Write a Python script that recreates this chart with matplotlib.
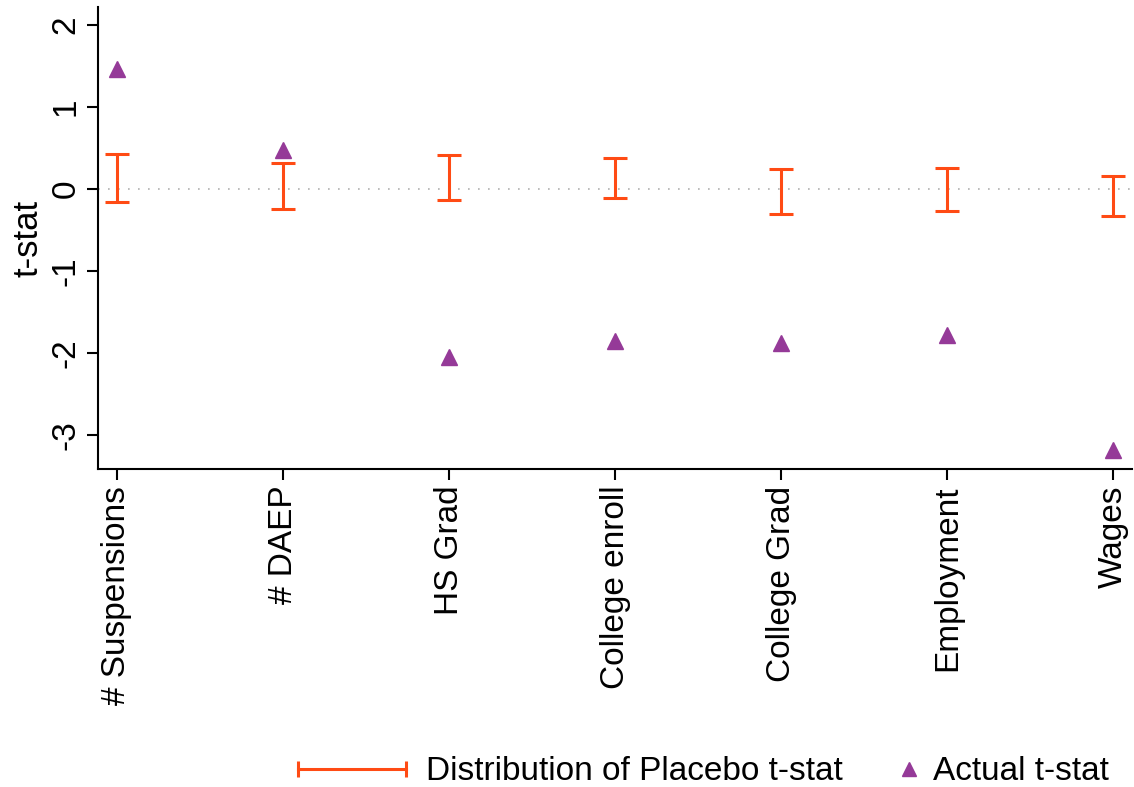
import matplotlib
matplotlib.use("Agg")
import matplotlib.pyplot as plt
from matplotlib.lines import Line2D
from matplotlib.legend_handler import HandlerLine2D
import numpy as np

# outcomes on the x axis
outcomes = ["# Suspensions", "# DAEP", "HS Grad", "College enroll",
            "College Grad", "Employment", "Wages"]

# placebo t-stat distribution (low / high end of the bar)
placebo_lo = [-0.155, -0.245, -0.125, -0.11, -0.30, -0.265, -0.32]
placebo_hi = [0.435, 0.325, 0.415, 0.375, 0.25, 0.265, 0.16]

# actual t-stat
actual_t = [1.46, 0.48, -2.05, -1.85, -1.87, -1.78, -3.18]

yticks = [-3, -2, -1, 0, 1, 2]

ORANGE = "#FF4B14"
PURPLE = "#953A98"
FS = 24

plt.rcParams["font.family"] = ["Liberation Sans", "DejaVu Sans"]

fig = plt.figure(figsize=(11.34, 7.87), dpi=100)
ax = fig.add_axes([0.0864, 0.404, 0.9116, 0.587])

x = np.arange(1, len(outcomes) + 1)
lo = np.array(placebo_lo)
hi = np.array(placebo_hi)
mid = (lo + hi) / 2
half = (hi - lo) / 2

# zero reference line
ax.axhline(0, color="#b0b0b0", lw=1.2, ls=(0, (1, 5)), zorder=1)

# placebo range as capped bars
ax.errorbar(x, mid, yerr=half, fmt="none", ecolor=ORANGE, elinewidth=2.2,
            capsize=8.5, capthick=2.2, zorder=2)

# actual t-stats
ax.plot(x, actual_t, ls="none", marker="^", ms=12, color=PURPLE,
        mec=PURPLE, zorder=3)

ax.set_xlim(0.886, 7.11)
ax.set_ylim(-3.41, 2.22)
ax.set_xticks(x)
ax.set_xticklabels(outcomes, rotation=90, fontsize=FS)
ax.set_yticks(yticks)
ax.set_yticklabels([str(t) for t in yticks], rotation=90, fontsize=FS,
                   va="center")
ax.set_ylabel("t-stat", fontsize=25, labelpad=4)

for side in ["top", "right"]:
    ax.spines[side].set_visible(False)
for side in ["left", "bottom"]:
    ax.spines[side].set_linewidth(1.5)
ax.tick_params(axis="both", length=8, width=1.5, pad=4)

# legend: capped horizontal line, then the triangle
h_bar = Line2D([0, 1], [0, 1], color=ORANGE, lw=2.2, marker="|", ms=12,
               mew=2.2)
h_tri = Line2D([], [], ls="none", marker="^", ms=10, color=PURPLE)
leg1 = fig.legend([h_bar], ["Distribution of Placebo t-stat"],
                  handler_map={h_bar: HandlerLine2D(numpoints=2)},
                  loc="lower right", bbox_to_anchor=(0.764, -0.03),
                  frameon=False, fontsize=FS, handlelength=3.85,
                  handletextpad=0.3, borderpad=0.2)
leg2 = fig.legend([h_tri], ["Actual t-stat"], numpoints=1,
                  loc="lower right", bbox_to_anchor=(0.998, -0.03),
                  frameon=False, fontsize=FS, handlelength=0.6,
                  handletextpad=0.4, borderpad=0.2)

fig.savefig("out.png", dpi=100)
